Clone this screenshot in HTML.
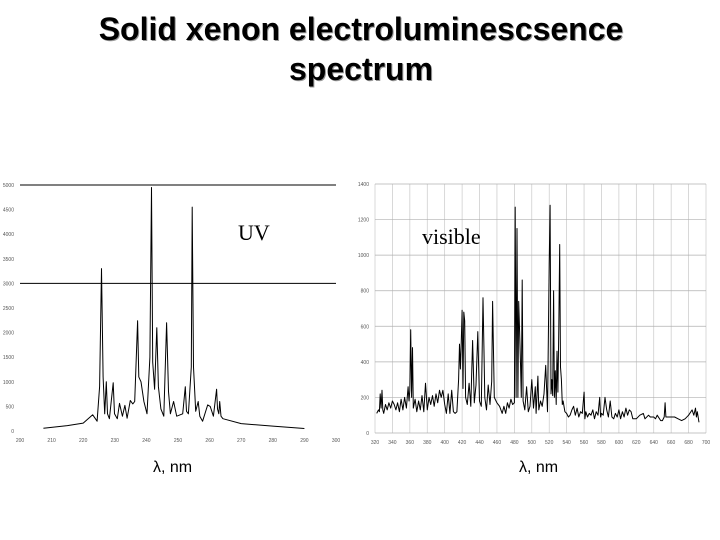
<!DOCTYPE html>
<html><head><meta charset="utf-8"><style>
body{margin:0;background:#fff;width:720px;height:540px;overflow:hidden;font-family:"Liberation Sans",sans-serif}
svg{position:absolute;left:0;top:0}
</style></head><body>
<svg width="720" height="540">
<g font-family="Liberation Sans" font-weight="bold" font-size="32" text-anchor="middle">
<text x="362" y="41" fill="#999">Solid xenon electroluminescsence</text>
<text x="361" y="40" fill="#000">Solid xenon electroluminescsence</text>
<text x="362" y="81" fill="#999">spectrum</text>
<text x="361" y="80" fill="#000">spectrum</text>
</g>
<g id="uv"></g>
<g id="vis"></g>
<text x="238" y="240" font-family="Liberation Serif" font-size="22">UV</text>
<text x="422" y="244" font-family="Liberation Serif" font-size="22">visible</text>
<text x="153" y="472" font-family="Liberation Sans" font-size="16">λ, nm</text>
<text x="519" y="472" font-family="Liberation Sans" font-size="16">λ, nm</text>
</svg>
<script>
const uvX=[207.4,215,220,223,224.4,225.2,225.8,226.3,226.8,227.3,227.7,228.3,229.5,229.9,230.8,231.5,232.4,233.2,233.9,234.9,235.7,236.3,237.2,237.6,238.3,239.2,240.2,241.1,241.6,242.0,242.6,243.3,243.8,244.6,245.5,246.4,247.0,247.6,248.6,249.6,251.5,252.3,252.7,253.3,254.2,254.5,254.9,255.6,256.4,256.9,257.8,259.4,260.2,261.2,262.2,262.5,262.9,263.2,263.6,264.2,270,280,290];
const uvY=[54,110,160,330,200,900,3300,1100,350,1000,350,250,980,350,250,560,300,520,260,620,550,600,2240,1100,1000,600,350,1500,4950,1400,850,2100,900,450,300,2200,800,350,600,300,350,900,400,350,1300,4550,1300,400,600,300,200,530,500,300,850,450,350,600,300,250,150,100,50];
const uvXTicks=[200,210,220,230,240,250,260,270,280,290,300];
const uvYTicks=[0,500,1000,1500,2000,2500,3000,3500,4000,4500,5000];
const visX=[
322,324,325,326,327,328,329,330,332,334,
336,338,340,342,344,346,348,350,352,354,
356,358,359,360,361,362,363,364,366,368,
370,372,374,376,378,380,382,384,386,388,
390,392,394,396,398,400,402,404,406,408,
410,412,414,416,417,418,419,420,421,422,
423,424,426,428,430,432,434,436,438,440,
442,444,445,446,448,450,452,454,455,457,
460,463,466,468,470,472,474,476,478,480,
481,482,483,484,485,486,487,488,489,490,
492,494,496,498,500,502,504,505,507,508,
510,512,514,516,518,520,521,522,523,524,
525,526,527,528,529,530,531,532,533,534,
535,536,538,540,542,544,546,548,550,552,
554,556,558,560,561,562,564,566,568,570,
572,574,576,578,579,580,582,584,586,588,
590,592,594,596,598,600,602,604,606,608,
610,612,614,616,620,624,628,630,634,636,
640,642,644,648,650,652,653,654,660,664,
668,672,676,680,684,686,688,689,690,692];
const visY=[
110,130,120,220,140,240,130,110,160,130,
170,140,180,160,130,170,120,190,130,200,
140,260,180,240,580,200,480,140,190,120,
180,130,210,120,280,130,200,160,210,150,
220,170,240,200,240,160,110,220,110,240,
120,110,120,300,500,360,500,690,250,680,
630,200,160,280,150,520,170,270,570,180,
150,760,490,200,130,270,160,290,740,200,
170,150,110,150,110,170,140,190,160,170,
1270,200,1150,200,740,570,390,200,860,180,
130,260,120,150,300,140,260,110,320,130,
180,150,220,380,120,950,1280,220,300,210,
800,200,350,160,460,230,590,1060,370,300,
160,180,120,110,90,100,130,150,100,140,
90,120,110,230,80,120,90,110,100,130,
80,120,100,200,90,110,100,200,130,90,
180,90,80,110,90,130,80,120,90,140,
100,130,120,80,80,100,110,80,100,90,
90,80,100,70,70,90,170,90,90,90,
80,70,80,100,130,100,140,90,120,60];
const visXTicks=[320,340,360,380,400,420,440,460,480,500,520,540,560,580,600,620,640,660,680,700];
const visYTicks=[0,200,400,600,800,1000,1200,1400];
const NS='http://www.w3.org/2000/svg';
function mk(p,t,a){const e=document.createElementNS(NS,t);for(const k in a)e.setAttribute(k,a[k]);p.appendChild(e);return e;}
function chart(gid,L,R,T,B,xmin,xmax,ymax,X,Y,xt,yt,grid,pfx){
 const g=document.getElementById(gid);
 const sx=v=>L+(v-xmin)/(xmax-xmin)*(R-L), sy=v=>B-v/ymax*(B-T);
 if(grid){
  xt.forEach(v=>{const l=mk(g,'line',{x1:sx(v),x2:sx(v),y1:T,y2:B,stroke:'#c8c8c8','stroke-width':0.7});
   
   });
  yt.forEach(v=>{const l=mk(g,'line',{x1:L,x2:R,y1:sy(v),y2:sy(v),stroke:'#b0b0b0','stroke-width':0.7});
   
   });
 } else {
  [yt[yt.length-1],3000].forEach(v=>{const l=mk(g,'line',{x1:L,x2:R,y1:sy(v),y2:sy(v),stroke:'#000','stroke-width':1});
   
   });
 }
 xt.forEach(v=>{const t=mk(g,'text',{x:sx(v),y:B+11,'font-size':5,'text-anchor':'middle',fill:'#555'});t.textContent=v;
  
  });
 yt.forEach(v=>{const t=mk(g,'text',{x:L-6,y:sy(v)+2,'font-size':5,'text-anchor':'end',fill:'#555'});t.textContent=v;
  
  });
 const pts=X.map((x,i)=>sx(x).toFixed(1)+','+sy(Y[i]).toFixed(1)).join(' ');
 const p=mk(g,'polyline',{points:pts,fill:'none',stroke:'#000','stroke-width':1,'stroke-linejoin':'round'});
 
 
}
chart('uv',20,336,185,431,200,300,5000,uvX,uvY,uvXTicks,uvYTicks,false,'uv');
chart('vis',375,706,184,433,320,700,1400,visX,visY,visXTicks,visYTicks,true,'visible');
</script>
</body></html>
